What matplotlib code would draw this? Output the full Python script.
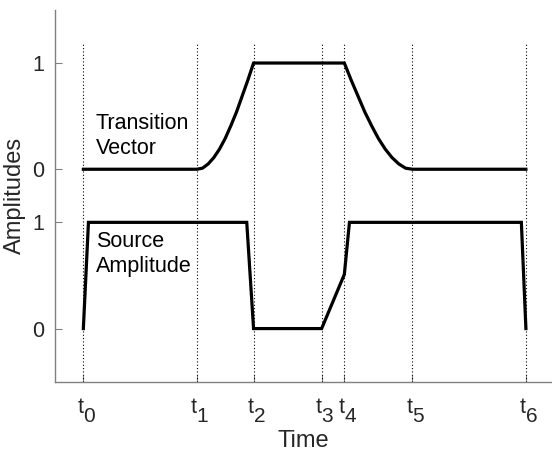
import matplotlib
matplotlib.use("Agg")
import matplotlib.pyplot as plt

plt.rcParams['font.family'] = ['Liberation Sans', 'DejaVu Sans']

# event times t0..t6
t_times = [0.0, 1.0, 1.5, 2.1, 2.3, 2.9, 3.9]
t_subs = ['0', '1', '2', '3', '4', '5', '6']

# source amplitude (lower trace, 0..1)
src_x = [0.0, 0.045, 1.44, 1.5, 2.1, 2.3, 2.345, 3.86, 3.9]
src_y = [0.0, 1.0, 1.0, 0.0, 0.0, 0.51, 1.0, 1.0, 0.0]

# transition vector (upper trace, drawn with 0 at 1.5 and 1 at 2.5)
trans_x = [0.0, 1.0, 1.05, 1.1, 1.15, 1.2, 1.25, 1.3, 1.35, 1.4, 1.45, 1.5,
           2.3, 2.36, 2.42, 2.48, 2.54, 2.6, 2.66, 2.72, 2.78, 2.84, 2.9, 3.9]
trans_y = [1.5, 1.5, 1.51, 1.55, 1.61, 1.69, 1.79, 1.91, 2.04, 2.19, 2.34, 2.5,
           2.5, 2.34, 2.19, 2.04, 1.91, 1.79, 1.69, 1.61, 1.55, 1.51, 1.5, 1.5]

ytick_pos = [0, 1, 1.5, 2.5]
ytick_labels = ['0', '1', '0', '1']

fig = plt.figure(figsize=(5.52, 4.51), dpi=100)
ax = fig.add_axes([0.0996, 0.1537, 0.9004, 0.8243])

ax.vlines(t_times, -0.5, 2.69, colors='k', linestyles=(0, (1, 2)), linewidth=0.8)
ax.plot(trans_x, trans_y, color='k', lw=2.3, solid_joinstyle='miter')
ax.plot(src_x, src_y, color='k', lw=2.3, solid_joinstyle='miter')

ax.text(0.11, 1.81, 'Transition\nVector', fontsize=15.5, va='center', ha='left',
        linespacing=1.25)
ax.text(0.11, 0.70, 'Source\nAmplitude', fontsize=15.5, va='center', ha='left',
        linespacing=1.25)

ax.set_xlim(-0.25, 4.13)
ax.set_ylim(-0.5, 3.0)
ax.set_xticks(t_times)
ax.set_xticklabels([])
# t with a full-size, lowered index, as in the original
for t, s in zip(t_times, t_subs):
    ax.annotate('t', xy=(t, 0), xycoords=('data', 'axes fraction'),
                xytext=(0, -31), textcoords='offset pixels',
                ha='right', va='baseline', fontsize=15.5, color='#262626')
    ax.annotate(s, xy=(t, 0), xycoords=('data', 'axes fraction'),
                xytext=(0, -40), textcoords='offset pixels',
                ha='left', va='baseline', fontsize=15, color='#262626')
ax.set_yticks(ytick_pos)
ax.set_yticklabels(ytick_labels, fontsize=15.5)
ax.set_xlabel('Time', fontsize=17, color='#262626', labelpad=31.5)
ax.set_ylabel('Amplitudes', fontsize=17, color='#262626', labelpad=4)

for s in ['top', 'right']:
    ax.spines[s].set_visible(False)
for s in ['left', 'bottom']:
    ax.spines[s].set_color('#808080')
    ax.spines[s].set_linewidth(1.0)
ax.tick_params(direction='in', length=5, color='#808080', labelcolor='#262626')
ax.tick_params(axis='y', pad=8)

fig.savefig('out.png', dpi=100)
